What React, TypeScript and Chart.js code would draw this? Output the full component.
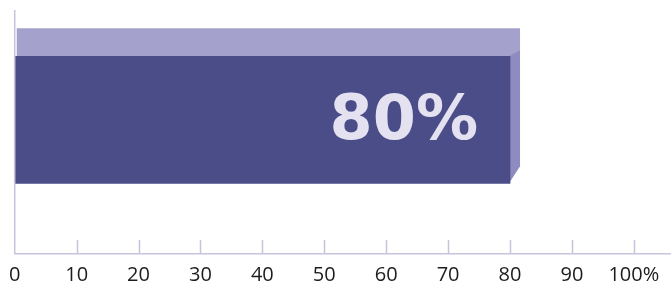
import React, { useEffect, useRef } from 'react';
import { Chart, registerables } from 'chart.js';

Chart.register(...registerables);

const categories = ['Progress'];
const values = [80];
const tickValues = [0, 10, 20, 30, 40, 50, 60, 70, 80, 90, 100];
const tickLabels = ['0', '10', '20', '30', '40', '50', '60', '70', '80', '90', '100%'];
const valueLabel = '80%';

const FRONT = '#4b4d89';
const TOP = '#a4a1cc';
const SIDE = '#8e8bc1';
const AXIS = '#c6c4dc';
const LABEL = '#e4e2f1';

const depthPlugin = {
  id: 'depth3d',
  beforeDatasetsDraw(chart: any) {
    const meta = chart.getDatasetMeta(0);
    const ctx = chart.ctx;
    meta.data.forEach((bar: any) => {
      const { x, y, base, height } = bar.getProps(['x', 'y', 'base', 'height'], true);
      const top = y - height / 2;
      const bottom = y + height / 2;
      const dx = 10;
      const dy = 28;
      ctx.save();
      ctx.fillStyle = TOP;
      ctx.beginPath();
      ctx.moveTo(base + 2, top - dy);
      ctx.lineTo(x + dx, top - dy);
      ctx.lineTo(x + dx, top);
      ctx.lineTo(base + 2, top);
      ctx.closePath();
      ctx.fill();
      ctx.fillStyle = SIDE;
      ctx.beginPath();
      ctx.moveTo(x - 1, top);
      ctx.lineTo(x + dx, top - 6);
      ctx.lineTo(x + dx, bottom - 17);
      ctx.lineTo(x - 1, bottom);
      ctx.closePath();
      ctx.fill();
      ctx.restore();
    });
  },
  afterDatasetsDraw(chart: any) {
    const meta = chart.getDatasetMeta(0);
    const ctx = chart.ctx;
    meta.data.forEach((bar: any) => {
      const { x, y } = bar.getProps(['x', 'y'], true);
      ctx.save();
      ctx.fillStyle = LABEL;
      ctx.font = 'bold 62px "DejaVu Sans", sans-serif';
      ctx.textAlign = 'right';
      ctx.textBaseline = 'middle';
      ctx.fillText(valueLabel, x - 32, y + 3);
      ctx.restore();
    });
  },
  afterDraw(chart: any) {
    const ctx = chart.ctx;
    const area = chart.chartArea;
    const xs = chart.scales.x;
    ctx.save();
    ctx.strokeStyle = AXIS;
    ctx.lineWidth = 1.5;
    ctx.beginPath();
    ctx.moveTo(area.left, area.top);
    ctx.lineTo(area.left, area.bottom);
    tickValues.forEach((v) => {
      if (v === 0) return;
      const px = Math.round(xs.getPixelForValue(v)) + 0.5;
      ctx.moveTo(px, area.bottom);
      ctx.lineTo(px, area.bottom - 14);
    });
    ctx.stroke();
    ctx.restore();
  },
};

export default function App() {
  const canvasRef = useRef<HTMLCanvasElement | null>(null);

  useEffect(() => {
    document.body.style.margin = '0';
    const canvas = canvasRef.current;
    if (!canvas) return;
    const chart = new Chart(canvas, {
      type: 'bar',
      data: {
        datasets: [
          {
            label: categories[0],
            data: values.map((v, i) => ({ x: v, y: i })),
            backgroundColor: FRONT,
            borderWidth: 0,
            barThickness: 127,
          },
        ],
      },
      options: {
        indexAxis: 'y',
        animation: false,
        responsive: true,
        maintainAspectRatio: false,
        layout: { padding: { left: 4, top: 10, right: 0, bottom: 0 } },
        plugins: {
          legend: { display: false },
          tooltip: { enabled: false },
        },
        scales: {
          x: {
            type: 'linear',
            min: 0,
            max: 106,
            grid: { display: false, drawTicks: false },
            border: { display: true, color: AXIS, width: 1.5 },
            afterBuildTicks: (scale: any) => {
              scale.ticks = tickValues.map((v) => ({ value: v }));
            },
            ticks: {
              autoSkip: false,
              maxRotation: 0,
              padding: 9,
              color: '#1c1c1c',
              font: { family: '"Open Sans", sans-serif', size: 20 },
              callback: (_v: any, i: number) => tickLabels[i],
            },
          },
          y: {
            type: 'linear',
            display: false,
            min: -0.56,
            max: 0.44,
          },
        },
      },
      plugins: [depthPlugin],
    } as any);
    return () => chart.destroy();
  }, []);

  return (
    <div style={{ width: 671, height: 285, overflow: 'hidden', background: '#fff' }}>
      <div style={{ width: 671, height: 296, position: 'relative' }}>
        <canvas ref={canvasRef} />
      </div>
    </div>
  );
}
